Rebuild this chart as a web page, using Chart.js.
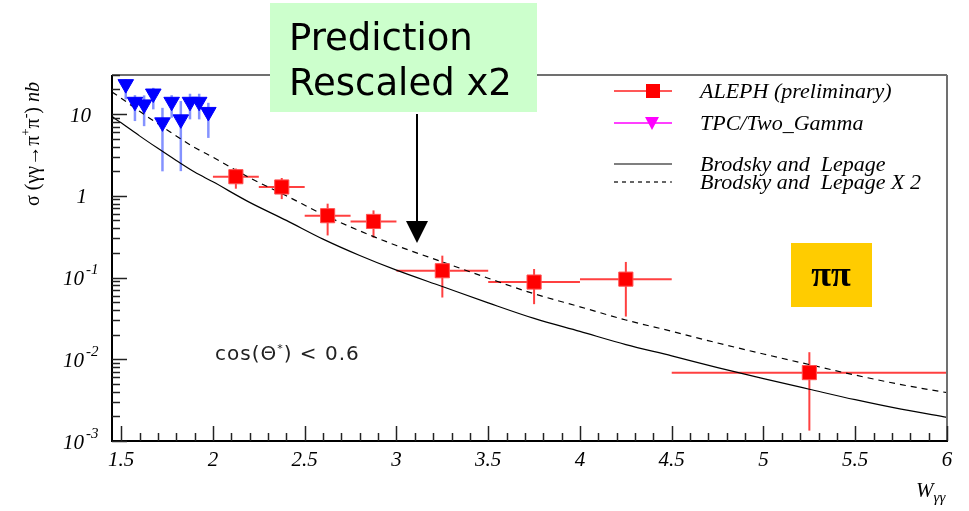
<!DOCTYPE html>
<html>
<head>
<meta charset="utf-8">
<script src="https://cdn.jsdelivr.net/npm/chart.js@4/dist/chart.umd.min.js"></script>
<style>
html, body { margin: 0; padding: 0; background: #fff; }
</style>
</head>
<body>
<canvas id="xsec" width="969" height="511"></canvas>
<script>
// ALEPH points (W centre, bin edges, sigma and its error band)
const alephW = [2.125, 2.375, 2.625, 2.875, 3.25, 3.75, 4.25, 5.25];
const alephWLow = [2.0, 2.25, 2.5, 2.75, 3.0, 3.5, 4.0, 4.5];
const alephWHigh = [2.25, 2.5, 2.75, 3.0, 3.5, 4.0, 4.5, 6.0];
const alephSigma = [1.71, 1.28, 0.57, 0.485, 0.121, 0.088, 0.0955, 0.00686];
const alephSigmaHigh = [2.15, 1.65, 0.80, 0.662, 0.185, 0.127, 0.155, 0.0122];
const alephSigmaLow = [1.22, 0.91, 0.327, 0.307, 0.0569, 0.0472, 0.0333, 0.00134];

// TPC/Two_Gamma points
const tpcW = [1.525, 1.575, 1.625, 1.675, 1.725, 1.775, 1.825, 1.875, 1.925, 1.975];
const tpcSigma = [23.2, 14.1, 13.1, 17.8, 7.9, 14.1, 8.6, 14.1, 14.1, 10.6];
const tpcSigmaHigh = [26.5, 17.0, 16.9, 20.9, 11.9, 17.0, 14.4, 17.7, 17.7, 13.7];
const tpcSigmaLow = [15.1, 8.2, 7.1, 11.4, 1.99, 9.0, 2.0, 8.6, 8.6, 5.1];

// Brodsky and Lepage curves
const curveW = [1.45, 1.5, 1.6, 1.7, 1.8, 1.9, 2.0, 2.2, 2.4, 2.6, 2.8, 3.0, 3.25, 3.5, 3.75, 4.0, 4.25, 4.5, 4.75, 5.0, 5.25, 5.5, 5.75, 6.0];
const brodsky = [9.3, 7.8, 5.4, 3.8, 2.7, 1.95, 1.48, 0.83, 0.50, 0.295, 0.186, 0.123, 0.0776, 0.049, 0.0316, 0.0219, 0.0151, 0.011, 0.0079, 0.0058, 0.0043, 0.0032, 0.00245, 0.00195];
const brodskyX2 = [18.6, 15.6, 10.8, 7.6, 5.4, 3.9, 2.96, 1.66, 1.0, 0.59, 0.372, 0.246, 0.155, 0.098, 0.0632, 0.0438, 0.0302, 0.022, 0.0158, 0.0116, 0.0086, 0.0064, 0.0049, 0.0039];

// axis labels
const xTicks = [1.5, 2, 2.5, 3, 3.5, 4, 4.5, 5, 5.5, 6];
const xTickLabels = ["1.5", "2", "2.5", "3", "3.5", "4", "4.5", "5", "5.5", "6"];
const yTicks = [10, 1, 0.1, 0.01, 0.001];
const yTickBase = ["10", "1", "10", "10", "10"];
const yTickExp = ["", "", "-1", "-2", "-3"];

const legendLabels = ["ALEPH (preliminary)", "TPC/Two_Gamma", "Brodsky and  Lepage", "Brodsky and  Lepage X 2"];

const SERIF = "'Liberation Serif', 'DejaVu Serif', serif";
const SANS = "'DejaVu Sans', Verdana, sans-serif";

function toXY(xs, ys) {
    return xs.map(function (v, i) { return { x: v, y: ys[i] }; });
}

function drawRich(ctx, x, y, parts) {
    var cx = x;
    parts.forEach(function (p) {
        ctx.font = p[1];
        ctx.fillText(p[0], cx, y + (p[2] || 0));
        cx += ctx.measureText(p[0]).width;
    });
    return cx - x;
}
function richWidth(ctx, parts) {
    var w = 0;
    parts.forEach(function (p) { ctx.font = p[1]; w += ctx.measureText(p[0]).width; });
    return w;
}
function seg(ctx, x1, y1, x2, y2) {
    ctx.beginPath();
    ctx.moveTo(x1, y1);
    ctx.lineTo(x2, y2);
    ctx.stroke();
}

var errorBars = {
    id: "errorBars",
    beforeDatasetsDraw: function (chart) {
        var ctx = chart.ctx, x = chart.scales.x, y = chart.scales.y, a = chart.chartArea;
        ctx.save();
        ctx.beginPath();
        ctx.rect(a.left, a.top, a.right - a.left, a.bottom - a.top);
        ctx.clip();
        ctx.lineWidth = 2;
        ctx.strokeStyle = "rgba(255,30,30,0.85)";
        alephW.forEach(function (w, i) {
            var px = x.getPixelForValue(w), py = y.getPixelForValue(alephSigma[i]);
            seg(ctx, x.getPixelForValue(alephWLow[i]), py, x.getPixelForValue(alephWHigh[i]), py);
            seg(ctx, px, y.getPixelForValue(alephSigmaHigh[i]), px, y.getPixelForValue(alephSigmaLow[i]));
        });
        ctx.lineWidth = 2.5;
        ctx.strokeStyle = "rgba(80,100,255,0.7)";
        tpcW.forEach(function (w, i) {
            var px = x.getPixelForValue(w);
            seg(ctx, px, y.getPixelForValue(tpcSigmaHigh[i]), px, y.getPixelForValue(tpcSigmaLow[i]));
        });
        ctx.restore();
    }
};

var decorations = {
    id: "decorations",
    afterDraw: function (chart) {
        var ctx = chart.ctx, x = chart.scales.x, y = chart.scales.y, a = chart.chartArea;
        ctx.save();

        // frame
        ctx.lineWidth = 2;
        ctx.strokeStyle = "#707070";
        seg(ctx, a.left, a.top, a.right, a.top);
        seg(ctx, a.right, a.top, a.right, a.bottom);
        ctx.strokeStyle = "#000";
        seg(ctx, a.left, a.top, a.left, a.bottom + 1);
        seg(ctx, a.left - 1, a.bottom, a.right + 1, a.bottom);

        // ticks, drawn inward
        ctx.lineWidth = 1.5;
        ctx.strokeStyle = "#222";
        for (var k = 15; k <= 60; k++) {
            var v = k / 10;
            var px = Math.round(x.getPixelForValue(v)) + 0.5;
            seg(ctx, px, a.bottom, px, a.bottom - (k % 5 === 0 ? 15 : 8));
        }
        for (var d = -3; d <= 1; d++) {
            for (var m = 1; m <= 9; m++) {
                var val = m * Math.pow(10, d);
                if (val > 30) break;
                var py = Math.round(y.getPixelForValue(val)) + 0.5;
                seg(ctx, a.left, py, a.left + (m === 1 ? 15 : 8), py);
            }
        }

        // tick labels
        ctx.fillStyle = "#000";
        ctx.textBaseline = "middle";
        ctx.textAlign = "center";
        ctx.font = "italic 21px " + SERIF;
        xTicks.forEach(function (v, i) {
            ctx.fillText(xTickLabels[i], x.getPixelForValue(v), a.bottom + 19);
        });
        yTicks.forEach(function (v, i) {
            var py = y.getPixelForValue(v) + 2;
            if (yTickExp[i]) {
                ctx.textAlign = "right";
                ctx.font = "italic 21px " + SERIF;
                ctx.fillText(yTickBase[i], 84, py);
                ctx.textAlign = "left";
                ctx.font = "italic 15px " + SERIF;
                ctx.fillText(yTickExp[i], 86, py - 9);
            } else {
                ctx.textAlign = "right";
                ctx.font = "italic 21px " + SERIF;
                ctx.fillText(yTickBase[i], yTickBase[i].length > 1 ? 91 : 87, py);
            }
        });

        // axis titles
        ctx.textAlign = "left";
        ctx.textBaseline = "alphabetic";
        drawRich(ctx, 916, 497, [["W", "italic 21px " + SERIF], ["\u03b3\u03b3", "italic 15px " + SERIF, 5]]);
        var yTitle = [
            ["\u03c3 (\u03b3\u03b3\u2192\u03c0", "20px " + SERIF],
            ["+", "13px " + SERIF, -9],
            ["\u03c0", "20px " + SERIF],
            ["-", "14px " + SERIF, -9],
            [") ", "20px " + SERIF],
            ["nb", "italic 20px " + SERIF]
        ];
        ctx.save();
        ctx.translate(39, 144);
        ctx.rotate(-Math.PI / 2);
        drawRich(ctx, -richWidth(ctx, yTitle) / 2, 0, yTitle);
        ctx.restore();

        // legend
        var lx1 = 614, lx2 = 672, tx = 700;
        ctx.lineWidth = 1.5;
        ctx.strokeStyle = "#ff2020";
        seg(ctx, lx1, 91, lx2, 91);
        ctx.fillStyle = "#ff0000";
        ctx.fillRect(646, 84, 14, 14);
        ctx.strokeStyle = "#ff00ff";
        seg(ctx, lx1, 123, lx2, 123);
        ctx.fillStyle = "#ff00ff";
        ctx.beginPath();
        ctx.moveTo(645, 117);
        ctx.lineTo(659, 117);
        ctx.lineTo(652, 130);
        ctx.closePath();
        ctx.fill();
        ctx.lineWidth = 1.2;
        ctx.strokeStyle = "#000";
        seg(ctx, lx1, 164, lx2, 164);
        ctx.setLineDash([4, 4]);
        seg(ctx, lx1, 182, lx2, 182);
        ctx.setLineDash([]);
        ctx.fillStyle = "#000";
        ctx.font = "italic 22px " + SERIF;
        ctx.fillText(legendLabels[0], tx, 98);
        ctx.fillText(legendLabels[1], tx, 130);
        ctx.fillText(legendLabels[2], tx, 171);
        ctx.fillText(legendLabels[3], tx, 189);

        // cos(theta*) cut
        ctx.fillStyle = "#222";
        ctx.letterSpacing = "1px";
        drawRich(ctx, 215, 360, [
            ["cos(\u0398", "20px " + SANS],
            ["*", "11px " + SANS, -8],
            [") < 0.6", "20px " + SANS]
        ]);
        ctx.letterSpacing = "0px";

        // pi pi tag
        ctx.fillStyle = "#ffcc00";
        ctx.fillRect(791, 243, 81, 64);
        ctx.fillStyle = "#000";
        ctx.textAlign = "center";
        ctx.textBaseline = "middle";
        ctx.font = "bold 36px " + SERIF;
        ctx.fillText("\u03c0\u03c0", 831, 277);

        // "Prediction Rescaled x2" box and arrow
        ctx.fillStyle = "#ccffcc";
        ctx.fillRect(270, 3, 267, 109);
        ctx.fillStyle = "#000";
        ctx.textAlign = "left";
        ctx.textBaseline = "alphabetic";
        ctx.font = "37px " + SANS;
        ctx.fillText("Prediction", 289, 50);
        ctx.fillText("Rescaled x2", 289, 95);
        ctx.lineWidth = 2;
        ctx.strokeStyle = "#000";
        seg(ctx, 417, 114, 417, 224);
        ctx.beginPath();
        ctx.moveTo(406, 221);
        ctx.lineTo(428, 221);
        ctx.lineTo(417, 243);
        ctx.closePath();
        ctx.fill();

        ctx.restore();
    }
};

var ctx = document.getElementById("xsec").getContext("2d");
var chart = new Chart(ctx, {
    type: "scatter",
    data: {
        datasets: [
            {
                label: legendLabels[0],
                data: toXY(alephW, alephSigma),
                pointStyle: "rect",
                pointRadius: 10,
                backgroundColor: "#ff0000",
                borderColor: "#ff5050",
                borderWidth: 1,
            },
            {
                label: legendLabels[1],
                data: toXY(tpcW, tpcSigma),
                pointStyle: "triangle",
                rotation: 180,
                pointRadius: 9,
                backgroundColor: "#0000ff",
                borderColor: "#0000ff",
                borderWidth: 1,
            },
            {
                label: legendLabels[2],
                data: toXY(curveW, brodsky),
                showLine: true,
                pointRadius: 0,
                borderColor: "#000",
                borderWidth: 1.2,
                cubicInterpolationMode: "monotone",
            },
            {
                label: legendLabels[3],
                data: toXY(curveW, brodskyX2),
                showLine: true,
                pointRadius: 0,
                borderColor: "#000",
                borderWidth: 1.2,
                borderDash: [6, 5],
                cubicInterpolationMode: "monotone",
            },
        ],
    },
    options: {
        responsive: false,
        animation: false,
        events: [],
        layout: { padding: { left: 112, right: 22, top: 75, bottom: 70 } },
        plugins: {
            legend: { display: false },
            tooltip: { enabled: false },
        },
        scales: {
            x: { type: "linear", min: 1.45, max: 6, display: false },
            y: { type: "logarithmic", min: 0.001, max: 30, display: false },
        },
    },
    plugins: [errorBars, decorations],
});
</script>
</body>
</html>
